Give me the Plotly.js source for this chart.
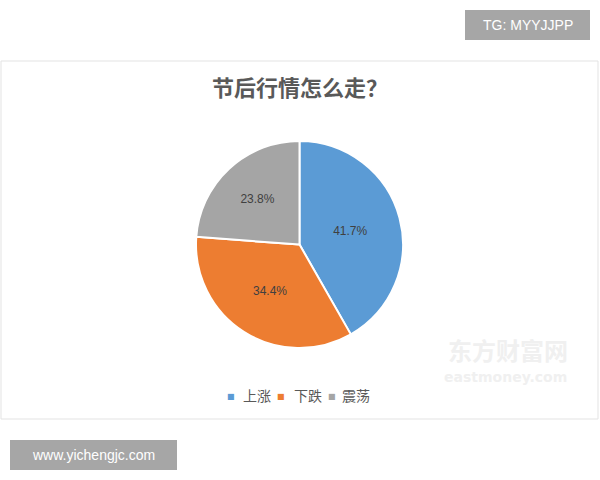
<!DOCTYPE html>
<html>
<head>
<meta charset="utf-8">
<script src="https://cdn.plot.ly/plotly-3.0.1.min.js"></script>
<style>html,body{margin:0;padding:0;background:#fff;}#chart{width:600px;height:480px;}</style>
</head>
<body>
<div id="chart"></div>
<script>
const categories = ["上涨", "下跌", "震荡"];
const shares = [41.7, 34.4, 23.8];
const sliceColors = ["#5B9BD5", "#ED7D31", "#A5A5A5"];
const chartTitle = "节后行情怎么走？";

const W = 600, H = 480;
const px = x => x / W;
const py = y => 1 - y / H;

const cx = 299.5, cy = 244.5, r = 103.5;

const trace = {
  type: "pie",
  labels: categories,
  values: shares,
  sort: false,
  direction: "clockwise",
  rotation: 0,
  marker: {colors: sliceColors, line: {color: "#ffffff", width: 2}},
  textinfo: "text",
  text: shares.map(v => v.toFixed(1) + "%"),
  textposition: "inside",
  insidetextorientation: "horizontal",
  insidetextfont: {family: "Liberation Sans, Arial, sans-serif", size: 12, color: "#404040"},
  hoverinfo: "label+percent",
  showlegend: false,
  domain: {x: [px(cx - r), px(cx + r)], y: [py(cy + r), py(cy - r)]}
};

// custom legend placement (Excel-style compact legend)
const legendMarkerX = [231.5, 281, 331.5];
const legendTextX = [241, 292, 340];
const legendY = 396;
const legendAnns = [];
categories.forEach((c, i) => {
  legendAnns.push({text: "■", xref: "paper", yref: "paper", x: px(legendMarkerX[i]), y: py(legendY),
    xanchor: "center", yanchor: "middle", showarrow: false,
    font: {family: "DejaVu Sans, sans-serif", size: 8, color: sliceColors[i]}});
  legendAnns.push({text: c, xref: "paper", yref: "paper", x: px(legendTextX[i]), y: py(legendY - 1),
    xanchor: "left", yanchor: "middle", showarrow: false,
    font: {family: "Noto Sans CJK SC, sans-serif", size: 14, color: "#595959"}});
});

const layout = {
  width: W, height: H,
  margin: {l: 0, r: 0, t: 0, b: 0},
  paper_bgcolor: "#ffffff",
  showlegend: false,
  title: {
    text: chartTitle, x: 0.5, xanchor: "center", y: py(88), yanchor: "middle",
    font: {family: "Noto Sans CJK SC, sans-serif", size: 22, color: "#595959", weight: "bold"}
  },
  shapes: [
    {type: "rect", xref: "paper", yref: "paper", x0: px(1), x1: px(598), y0: py(419), y1: py(61),
     line: {color: "#e3e3e3", width: 1}, fillcolor: "rgba(0,0,0,0)", layer: "below"},
    {type: "rect", xref: "paper", yref: "paper", x0: px(465), x1: px(590), y0: py(40), y1: py(10),
     line: {width: 0}, fillcolor: "#a6a6a6"},
    {type: "rect", xref: "paper", yref: "paper", x0: px(10), x1: px(177), y0: py(470), y1: py(440),
     line: {width: 0}, fillcolor: "#a6a6a6"}
  ],
  annotations: [
    {text: "TG: MYYJJPP", xref: "paper", yref: "paper", x: px(527.5), y: py(25), xanchor: "center", yanchor: "middle",
     showarrow: false, font: {family: "Liberation Sans, Arial, sans-serif", size: 14, color: "#ffffff"}},
    {text: "www.yichengjc.com", xref: "paper", yref: "paper", x: px(93.5), y: py(455), xanchor: "center", yanchor: "middle",
     showarrow: false, font: {family: "Liberation Sans, Arial, sans-serif", size: 14, color: "#ffffff"}},
    {text: "东方财富网", xref: "paper", yref: "paper", x: px(508), y: py(349), xanchor: "center", yanchor: "middle",
     showarrow: false, font: {family: "Noto Sans CJK SC, serif", size: 24, color: "#f0f0f0", weight: "bold"}},
    {text: "eastmoney.com", xref: "paper", yref: "paper", x: px(505), y: py(377), xanchor: "center", yanchor: "middle",
     showarrow: false, font: {family: "DejaVu Sans, sans-serif", size: 14, color: "#f0f0f0", weight: "bold"}}
  ].concat(legendAnns)
};

Plotly.newPlot("chart", [trace], layout, {displayModeBar: false, staticPlot: true});
</script>
</body>
</html>
